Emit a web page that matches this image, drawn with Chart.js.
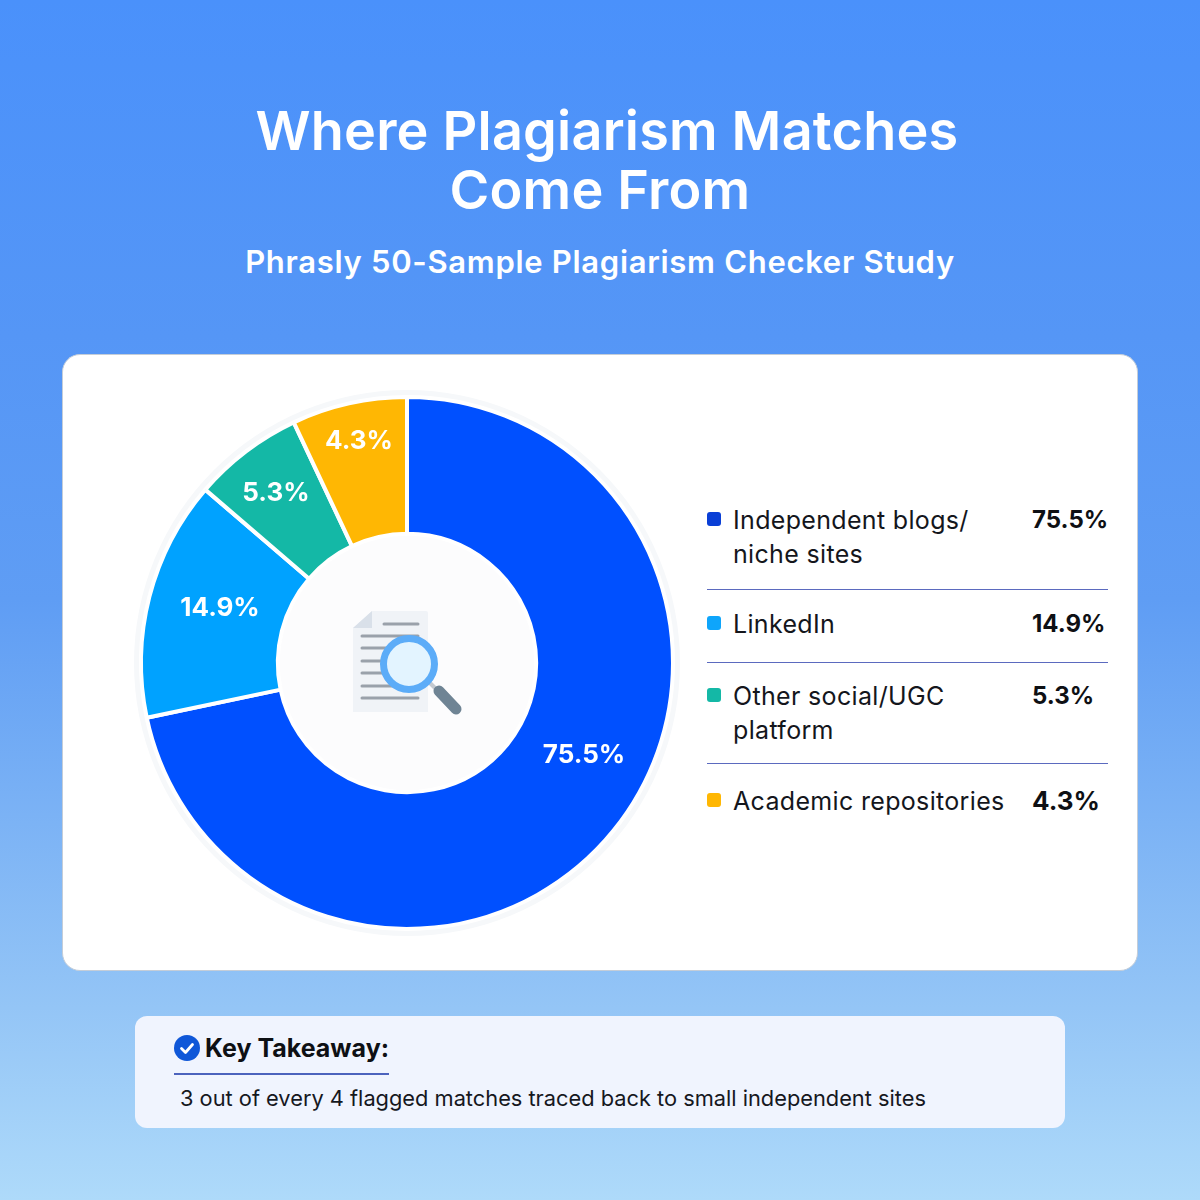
<!DOCTYPE html>
<html>
<head>
<meta charset="utf-8">
<script src="https://cdn.jsdelivr.net/npm/chart.js@4"></script>
<style>
  html, body { margin: 0; padding: 0; }
  body { width: 1200px; height: 1200px; position: relative; overflow: hidden; font-family: Inter, sans-serif;
    background: linear-gradient(180deg, #4a91fb 0%, #5596f6 28%, #5f9df4 50%, #94c5f6 84%, #aedafa 100%); }
  h1 { position: absolute; left: 0; top: 101px; width: 1200px; margin: 0; text-align: center; color: #fff;
    font-size: 54px; line-height: 59px; font-weight: 600; letter-spacing: 0.2px; }
  h1 span { position: relative; left: 7px; }
  h2 { position: absolute; left: 0; top: 243px; width: 1200px; margin: 0; text-align: center; color: #fff;
    font-size: 31px; line-height: 38px; font-weight: 600; letter-spacing: 0.7px; }
  #card { position: absolute; left: 62px; top: 354px; width: 1074px; height: 615px; background: #fff;
    border: 1px solid #c4cdd8; border-radius: 18px; }
  #chartBox { position: absolute; left: 127px; top: 383px; width: 560px; height: 560px; }
  #icon { position: absolute; left: 347px; top: 604px; width: 120px; height: 120px; }
  #legend { position: absolute; left: 707px; top: 503px; width: 401px; color: #14161c; }
  .row { position: relative; border-bottom: 1px solid #5b6abf; padding-left: 26px; font-size: 25px; line-height: 34px; letter-spacing: 0.33px; }
  .row:last-child { border-bottom: 0; }
  .row i { position: absolute; left: 0; top: 9px; width: 14px; height: 14px; border-radius: 3px; }
  .row b { position: absolute; left: 325px; top: 0; font-size: 24px; font-weight: 700; color: #0e1014; white-space: nowrap; letter-spacing: 0; }
  .row:last-child b { font-size: 26px; top: 0; }
  #take { position: absolute; left: 135px; top: 1016px; width: 930px; height: 112px; background: #f0f4fe; border-radius: 12px; }
  #take h3 { position: absolute; left: 70px; top: 16px; margin: 0; font-size: 25px; line-height: 32px; font-weight: 700; color: #0e1014; }
  #take svg { position: absolute; left: 39px; top: 19px; }
  #take hr { position: absolute; left: 39px; top: 57px; width: 215px; margin: 0; border: 0; border-top: 2px solid #4c63bd; }
  #take p { position: absolute; left: 45px; top: 67px; margin: 0; font-size: 21.8px; line-height: 30px; color: #16181e; white-space: nowrap; }
</style>
</head>
<body>
<h1><span>Where Plagiarism Matches</span><br>Come From</h1>
<h2>Phrasly 50-Sample Plagiarism Checker Study</h2>
<div id="card"></div>
<div id="chartBox"><canvas id="sourceChart" width="560" height="560"></canvas></div>
<svg id="icon" viewBox="0 0 120 120">
  <path d="M6 24 L25 7 H79 Q81 7 81 9 V108 H6 Z" fill="#f0f3f7"/>
  <path d="M6 24 L25 7 V24 Z" fill="#d9e0e9"/>
  <g stroke="#9aa1aa" stroke-width="3" stroke-linecap="round">
    <line x1="37" y1="20" x2="71" y2="20"/>
    <line x1="15" y1="32" x2="71" y2="32"/>
    <line x1="15" y1="44" x2="45" y2="44"/>
    <line x1="15" y1="57" x2="40" y2="57"/>
    <line x1="15" y1="69" x2="40" y2="69"/>
    <line x1="15" y1="82" x2="45" y2="82"/>
    <line x1="15" y1="94" x2="71" y2="94"/>
  </g>
  <line x1="83" y1="79" x2="91" y2="87" stroke="#c3c9d0" stroke-width="4"/>
  <line x1="92" y1="87" x2="109" y2="105" stroke="#6f8494" stroke-width="11" stroke-linecap="round"/>
  <circle cx="62" cy="60" r="25.5" fill="#e3f4ff" stroke="#5cacf8" stroke-width="7"/>
</svg>
<div id="legend"></div>
<div id="take">
  <svg width="26" height="26" viewBox="0 0 26 26"><circle cx="13" cy="13" r="13" fill="#0f57d8"/><path d="M7.5 13.5 L11.5 17.5 L18.5 9.5" fill="none" stroke="#fff" stroke-width="2.8" stroke-linecap="round" stroke-linejoin="round"/></svg>
  <h3>Key Takeaway:</h3>
  <hr>
  <p>3 out of every 4 flagged matches traced back to small independent sites</p>
</div>
<script>
const categories = ["Independent blogs/ niche sites", "LinkedIn", "Other social/UGC platform", "Academic repositories"];
// printed figures, the slices in the picture are not drawn to these
const printedShares = ["75.5%", "14.9%", "5.3%", "4.3%"];
// slice sizes as measured off the ring
const drawnShares = [71.7, 14.6, 6.7, 7.0];
const sliceColors = ["#0050ff", "#00a2ff", "#14b8a6", "#ffb703"];
const legendColors = ["#0a3fd6", "#0ea5fb", "#14b8a6", "#ffb703"];
const labelOffsets = [[177, 92], [-187, -55], [-131, -170], [-48, -222]];

const legend = document.getElementById("legend");
const rowPadding = [[0, 18], [17, 21], [16, 16], [20, 0]];
categories.forEach((name, i) => {
  let row = document.createElement("div");
  row.className = "row";
  row.style.paddingTop = rowPadding[i][0] + "px";
  row.style.paddingBottom = rowPadding[i][1] + "px";
  row.innerHTML = `<i style="background:${legendColors[i]};margin-top:${rowPadding[i][0]}px"></i>${name.replace(/(blogs\/|social\/UGC) /, "$1<br>")}<b style="margin-top:${rowPadding[i][0]}px">${printedShares[i]}</b>`;
  legend.appendChild(row);
});

const ringExtras = {
  id: "ringExtras",
  beforeDatasetsDraw(chart) {
    let arc = chart.getDatasetMeta(0).data[0];
    let ctx = chart.ctx;
    ctx.save();
    ctx.fillStyle = "#f6f8fa";
    ctx.beginPath();
    ctx.arc(arc.x, arc.y, arc.outerRadius + 7, 0, Math.PI * 2);
    ctx.fill();
    ctx.fillStyle = "#fcfcfd";
    ctx.beginPath();
    ctx.arc(arc.x, arc.y, arc.innerRadius, 0, Math.PI * 2);
    ctx.fill();
    ctx.restore();
  },
  afterDatasetsDraw(chart) {
    let arc = chart.getDatasetMeta(0).data[0];
    let ctx = chart.ctx;
    ctx.save();
    ctx.fillStyle = "#fff";
    ctx.font = "700 26px Inter, sans-serif";
    ctx.textAlign = "center";
    ctx.textBaseline = "middle";
    printedShares.forEach((txt, i) => {
      ctx.fillText(txt, arc.x + labelOffsets[i][0], arc.y + labelOffsets[i][1]);
    });
    ctx.restore();
  }
};

new Chart(document.getElementById("sourceChart"), {
  type: "doughnut",
  data: {
    labels: categories,
    datasets: [{
      data: drawnShares,
      backgroundColor: sliceColors,
      borderColor: "#ffffff",
      borderWidth: 4,
      borderAlign: "center"
    }]
  },
  options: {
    responsive: false,
    animation: false,
    radius: 266,
    cutout: 135,
    plugins: { legend: { display: false }, tooltip: { enabled: false } }
  },
  plugins: [ringExtras]
});
</script>
</body>
</html>
